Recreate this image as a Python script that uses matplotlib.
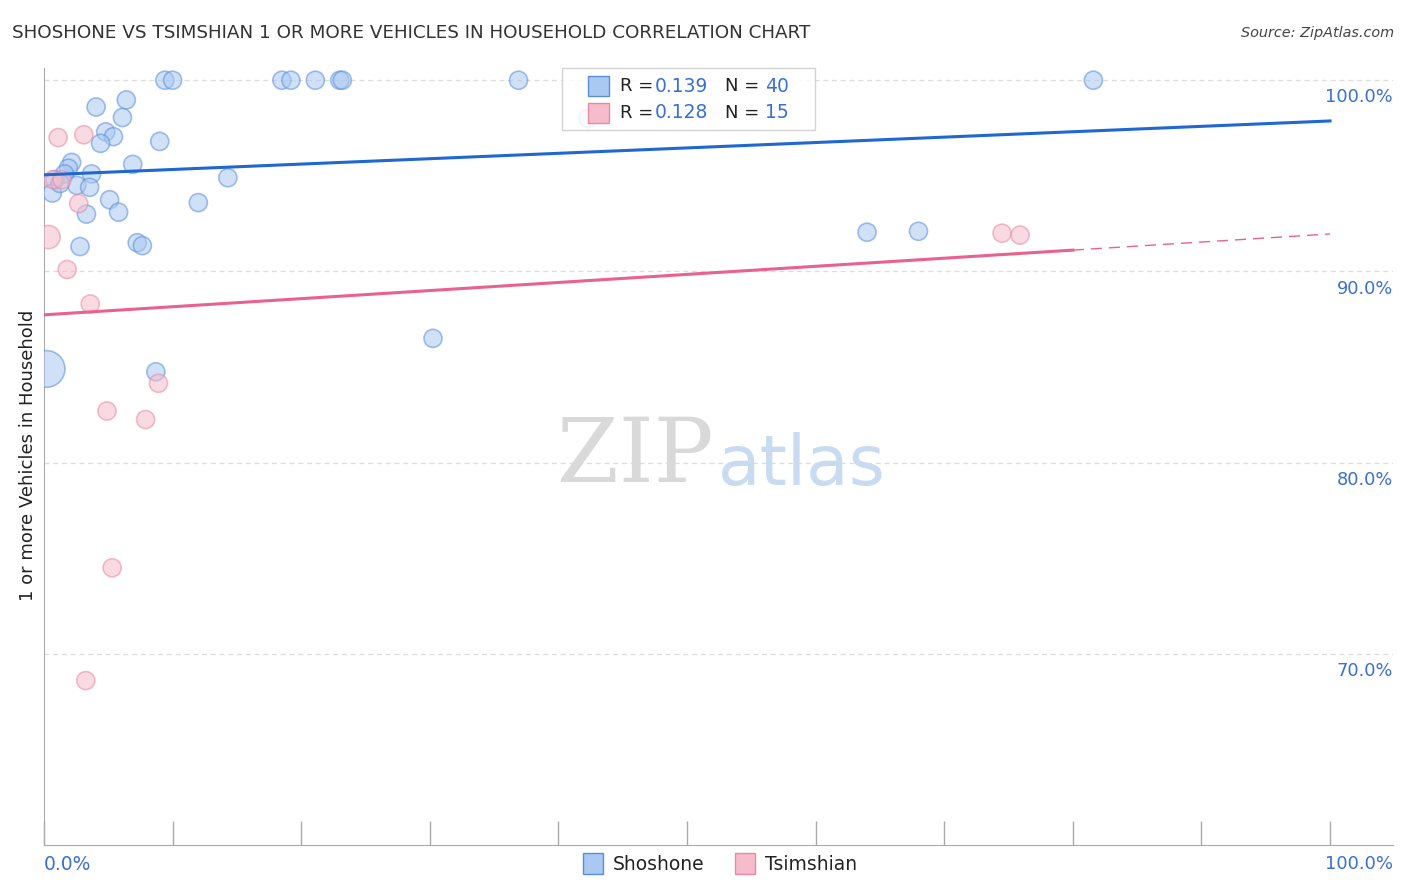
import numpy as np
import matplotlib.pyplot as plt
from matplotlib.patches import Rectangle

# Shoshone (blue) points: x = Shoshone %, y = 1+ vehicles %
sho_x = [9.4, 10.0, 18.5, 19.2, 21.1, 23.0, 23.2, 36.9, 81.6,
         4.05, 6.4, 6.1, 4.8, 5.4, 4.4, 9.0, 2.15, 1.9, 6.9,
         1.6, 3.7, 14.3, 0.85, 2.55, 3.55, 0.65, 12.0, 5.1, 5.8,
         3.3, 7.25, 7.65, 2.8, 1.25, 42.3, 64.0, 68.0, 30.25, 8.7, 0.2]
sho_y = [100.0, 100.0, 100.0, 100.0, 100.0, 100.0, 100.0, 100.0, 100.0,
         98.6, 98.97, 98.05, 97.3, 97.05, 96.7, 96.8, 95.7, 95.4, 95.6,
         95.1, 95.1, 94.9, 94.8, 94.5, 94.4, 94.1, 93.6, 93.75, 93.1,
         93.0, 91.5, 91.35, 91.3, 94.6, 98.0, 92.05, 92.1, 86.5, 84.75, 84.9]
sho_s = [170] * 39 + [700]

# Tsimshian (pink) points
tsi_x = [1.1, 3.1, 2.7, 0.35, 1.8, 0.7, 1.4, 3.6, 8.9, 4.9, 7.9, 5.3, 3.25, 74.5, 75.9]
tsi_y = [97.0, 97.15, 93.55, 91.8, 90.1, 94.8, 94.8, 88.3, 84.15, 82.7, 82.25, 74.5, 68.6, 92.0, 91.9]
tsi_s = [170, 170, 170, 280, 170, 170, 170, 170, 170, 170, 170, 170, 170, 170, 170]

# trend lines (start / end values)
sho_trend = [95.05, 97.87]
tsi_trend = [87.73, 91.96]
tsi_solid_end = 80

blue_fill = '#a9c8f2'
blue_edge = '#5a8fd8'
pink_fill = '#f7bccb'
pink_edge = '#e68aa7'
blue_line = '#2068d0'
pink_line = '#e8628d'
tick_blue = '#3a70cf'

fig = plt.figure(figsize=(14.06, 8.92), dpi=100)
ax = fig.add_axes([44 / 1406, 47 / 892, (1393 - 44) / 1406, (845 - 68) / 892])
ax.set_xlim(0, 104.9)
ax.set_ylim(60.0, 100.64)

for gy in [100, 90, 80, 70]:
    ax.axhline(gy, color='#dddddd', linestyle=(0, (4, 3)), linewidth=0.9, zorder=0)

ax.scatter(sho_x, sho_y, s=sho_s, facecolor=blue_fill, edgecolor=blue_edge,
           alpha=0.55, linewidth=1.2, zorder=3)
ax.scatter(tsi_x, tsi_y, s=tsi_s, facecolor=pink_fill, edgecolor=pink_edge,
           alpha=0.55, linewidth=1.2, zorder=3)

ax.plot([0, 100], sho_trend, color=blue_line, linewidth=2.2, zorder=4)
slope = (tsi_trend[1] - tsi_trend[0]) / 100
ax.plot([0, tsi_solid_end], [tsi_trend[0], tsi_trend[0] + slope * tsi_solid_end],
        color=pink_line, linewidth=2.2, zorder=4)
ax.plot([tsi_solid_end, 100], [tsi_trend[0] + slope * tsi_solid_end, tsi_trend[1]],
        color=pink_line, linewidth=1.0, linestyle=(0, (8, 5)), zorder=4)

for s in ['top', 'right']:
    ax.spines[s].set_visible(False)
ax.spines['left'].set_color('#aaaaaa')
ax.spines['bottom'].set_color('#aaaaaa')
ax.set_yticks([])
ax.set_xticks(np.arange(0, 101, 10))
ax.set_xticklabels([])
ax.tick_params(axis='x', direction='in', length=17, color='#aaaaaa', width=1)

# y labels on the right, below gridlines
for gy in [100, 90, 80, 70]:
    fig.text(1393 / 1406, (892 - (80.3 + (100 - gy) * 19.12) - 17) / 892, f'{gy:.1f}%',
             ha='right', va='center', color=tick_blue, fontsize=12.8)

fig.text(44 / 1406, 28 / 892, '0.0%', ha='left', va='center', color=tick_blue, fontsize=13.5)
fig.text(1393 / 1406, 28 / 892, '100.0%', ha='right', va='center', color=tick_blue, fontsize=13)

fig.text(12 / 1406, 1 - 33 / 892,
         'SHOSHONE VS TSIMSHIAN 1 OR MORE VEHICLES IN HOUSEHOLD CORRELATION CHART',
         ha='left', va='center', fontsize=13.2, color='#333333')
fig.text(1394 / 1406, 1 - 33 / 892, 'Source: ZipAtlas.com', ha='right', va='center',
         fontsize=10.4, style='italic', color='#444444')

fig.text(28 / 1406, 1 - 455 / 892, '1 or more Vehicles in Household', rotation=90,
         ha='center', va='center', fontsize=13, color='#222222')

# watermark
fig.text(635 / 1406, 1 - 457 / 892, 'ZIP', ha='center', va='center', fontsize=64,
         family='DejaVu Serif', color='#d9d9d9', zorder=0)
fig.text(802 / 1406, 1 - 465 / 892, 'atlas', ha='center', va='center', fontsize=50,
         color='#c9dbf1', zorder=0)

# top legend box
fig.patches.append(Rectangle((562 / 1406, 1 - 130 / 892), 253 / 1406, 62 / 892,
                             transform=fig.transFigure, facecolor='white',
                             edgecolor='#cccccc', linewidth=1, alpha=0.85, zorder=5))
rows = [(86, blue_fill, blue_edge, '0.139', '40'), (113, pink_fill, pink_edge, '0.128', '15')]
for yy, fc, ec, r, n in rows:
    fig.patches.append(Rectangle((588 / 1406, 1 - (yy + 10) / 892), 21 / 1406, 20 / 892,
                                 transform=fig.transFigure, facecolor=fc, edgecolor=ec,
                                 linewidth=1, zorder=6))
    fig.text(620 / 1406, 1 - yy / 892, 'R =', ha='left', va='center', fontsize=13,
             color='#222222', zorder=6)
    fig.text(655 / 1406, 1 - yy / 892, r, ha='left', va='center', fontsize=13.5,
             color=tick_blue, zorder=6)
    fig.text(725 / 1406, 1 - yy / 892, 'N =', ha='left', va='center', fontsize=13,
             color='#222222', zorder=6)
    fig.text(789 / 1406, 1 - yy / 892, n, ha='right', va='center', fontsize=13.5,
             color=tick_blue, zorder=6)

# bottom legend
for x0, fc, ec, name in [(583, blue_fill, blue_edge, 'Shoshone'), (735, pink_fill, pink_edge, 'Tsimshian')]:
    fig.patches.append(Rectangle((x0 / 1406, 1 - 874 / 892), 20 / 1406, 21 / 892,
                                 transform=fig.transFigure, facecolor=fc, edgecolor=ec,
                                 linewidth=1))
    fig.text((x0 + 30) / 1406, 1 - 864 / 892, name, ha='left', va='center', fontsize=13.5,
             color='#222222')

fig.savefig('out.png', dpi=100)
